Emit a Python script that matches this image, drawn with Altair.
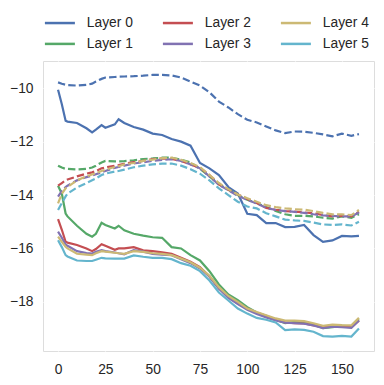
import altair as alt
import pandas as pd

X = [0, 2, 4, 5, 10, 15, 18, 20, 23, 25, 30, 32, 35, 40, 45, 50, 55, 60, 65, 70,
     75, 80, 85, 90, 95, 100, 105, 110, 115, 120, 125, 130, 135, 140, 145, 150, 155, 159]

L0_DASH = [-9.78, -9.83, -9.87, -9.88, -9.9, -9.87, -9.83, -9.75, -9.65, -9.6, -9.58, -9.57, -9.56, -9.55,
           -9.53, -9.5, -9.5, -9.52, -9.6, -9.75, -9.9, -10.15, -10.5, -10.72, -10.97, -11.18, -11.28,
           -11.43, -11.58, -11.68, -11.62, -11.63, -11.67, -11.73, -11.8, -11.7, -11.78, -11.72]
L0_SOLID = [-10.06, -10.6, -11.22, -11.25, -11.3, -11.5, -11.65, -11.55, -11.38, -11.48, -11.35, -11.16,
            -11.3, -11.45, -11.55, -11.7, -11.75, -11.9, -12.0, -12.15, -12.8, -13.0, -13.25, -13.7,
            -13.94, -14.7, -14.75, -15.05, -15.05, -15.2, -15.19, -15.12, -15.5, -15.75, -15.7, -15.53,
            -15.55, -15.53]
L1_DASH = [-12.9, -12.97, -13.02, -13.02, -13.04, -13.02, -12.97, -12.9, -12.78, -12.72, -12.74, -12.74,
           -12.73, -12.7, -12.65, -12.63, -12.6, -12.6, -12.68, -12.78, -13.02, -13.3, -13.6, -13.8, -14.0,
           -14.18, -14.3, -14.45, -14.6, -14.72, -14.78, -14.78, -14.8, -14.85, -14.88, -14.8, -14.85, -14.72]
L1_SOLID = [-13.65, -13.95, -14.69, -14.8, -15.15, -15.45, -15.56, -15.45, -15.04, -15.12, -15.25, -15.15,
            -15.32, -15.45, -15.52, -15.58, -15.6, -15.95, -16.0, -16.25, -16.45, -16.85, -17.35, -17.72,
            -17.94, -18.2, -18.4, -18.52, -18.67, -18.8, -18.75, -18.78, -18.85, -18.98, -18.95, -18.9,
            -18.92, -18.65]
L2_DASH = [-13.65, -13.55, -13.45, -13.42, -13.3, -13.2, -13.15, -13.1, -13.0, -12.97, -12.9, -12.88, -12.83,
           -12.77, -12.72, -12.65, -12.63, -12.65, -12.72, -12.85, -12.98, -13.25, -13.6, -13.8, -13.98,
           -14.15, -14.3, -14.48, -14.55, -14.6, -14.62, -14.65, -14.68, -14.75, -14.8, -14.78, -14.8, -14.62]
L2_SOLID = [-14.9, -15.3, -15.75, -15.78, -15.87, -16.0, -16.1, -16.02, -15.84, -15.9, -16.05, -16.0, -16.0,
            -15.95, -16.07, -16.1, -16.15, -16.2, -16.35, -16.5, -16.7, -17.05, -17.5, -17.8, -18.06, -18.25,
            -18.42, -18.55, -18.67, -18.77, -18.8, -18.81, -18.88, -18.95, -18.92, -18.93, -18.95, -18.7]
L3_DASH = [-14.06, -13.85, -13.7, -13.65, -13.45, -13.33, -13.27, -13.22, -13.15, -13.1, -12.98, -12.95, -12.9,
           -12.82, -12.77, -12.72, -12.68, -12.66, -12.72, -12.85, -13.0, -13.3, -13.62, -13.82, -14.03,
           -14.18, -14.32, -14.48, -14.56, -14.6, -14.63, -14.67, -14.72, -14.76, -14.78, -14.8, -14.8, -14.65]
L3_SOLID = [-15.37, -15.6, -15.85, -15.9, -16.1, -16.17, -16.19, -16.12, -16.06, -16.1, -16.15, -16.18,
            -16.22, -16.06, -16.12, -16.2, -16.23, -16.25, -16.4, -16.55, -16.75, -17.05, -17.5, -17.85,
            -18.08, -18.3, -18.45, -18.58, -18.7, -18.78, -18.8, -18.82, -18.88, -18.98, -18.93, -18.95,
            -18.97, -18.7]
L4_DASH = [-14.31, -13.95, -13.75, -13.7, -13.45, -13.3, -13.23, -13.18, -13.1, -13.05, -12.95, -12.92, -12.85,
           -12.8, -12.72, -12.67, -12.62, -12.6, -12.68, -12.8, -12.95, -13.25, -13.55, -13.78, -13.98,
           -14.12, -14.25, -14.38, -14.45, -14.5, -14.53, -14.55, -14.6, -14.67, -14.72, -14.72, -14.75, -14.56]
L4_SOLID = [-15.56, -15.75, -15.94, -16.0, -16.2, -16.23, -16.25, -16.18, -16.1, -16.12, -16.16, -16.18,
            -16.2, -16.1, -16.13, -16.18, -16.2, -16.25, -16.38, -16.52, -16.72, -17.02, -17.45, -17.78,
            -18.0, -18.25, -18.38, -18.5, -18.62, -18.7, -18.7, -18.72, -18.8, -18.9, -18.85, -18.87,
            -18.88, -18.6]
L5_DASH = [-14.56, -14.3, -14.05, -13.95, -13.72, -13.55, -13.45, -13.38, -13.25, -13.2, -13.12, -13.1, -13.05,
           -12.96, -12.9, -12.85, -12.82, -12.82, -12.9, -13.03, -13.2, -13.45, -13.75, -14.0, -14.25,
           -14.43, -14.5, -14.68, -14.8, -14.92, -14.95, -14.97, -15.03, -15.1, -15.12, -15.1, -15.14, -15.0]
L5_SOLID = [-15.69, -15.95, -16.25, -16.3, -16.45, -16.47, -16.47, -16.42, -16.35, -16.37, -16.38, -16.38,
            -16.38, -16.26, -16.31, -16.35, -16.35, -16.4, -16.55, -16.65, -16.85, -17.2, -17.65, -17.95,
            -18.25, -18.44, -18.6, -18.67, -18.77, -19.06, -19.03, -19.05, -19.12, -19.28, -19.3, -19.27,
            -19.3, -19.0]

LAYERS = ["Layer 0", "Layer 1", "Layer 2", "Layer 3", "Layer 4", "Layer 5"]
COLORS = ["#4C72B0", "#55A868", "#C44E52", "#8172B2", "#CCB974", "#64B5CD"]
SOLIDS = [L0_SOLID, L1_SOLID, L2_SOLID, L3_SOLID, L4_SOLID, L5_SOLID]
DASHES = [L0_DASH, L1_DASH, L2_DASH, L3_DASH, L4_DASH, L5_DASH]

rows = []
for name, s, d in zip(LAYERS, SOLIDS, DASHES):
    for xv, sv, dv in zip(X, s, d):
        rows.append({"x": xv, "y": sv, "layer": name, "style": "solid"})
        rows.append({"x": xv, "y": dv, "layer": name, "style": "dashed"})
df = pd.DataFrame(rows)

FONT = "Liberation Sans"
TXT = "#262626"

# legend line symbol: a 30px horizontal stroke drawn from a small (10px) symbol box
color = alt.Color(
    "layer:N",
    scale=alt.Scale(domain=LAYERS, range=COLORS),
    legend=alt.Legend(
        title=None, orient="none", legendX=10, legendY=-45, columns=3,
        symbolType="M-3,0L3,0", symbolSize=100, symbolStrokeWidth=2.5,
        labelFont=FONT, labelFontSize=13.8, labelColor=TXT, labelOffset=20,
        columnPadding=24, rowPadding=6, padding=0,
    ),
)

xenc = alt.X(
    "x:Q",
    scale=alt.Scale(domain=[-7.95, 166.95], nice=False, zero=False),
    axis=alt.Axis(values=[0, 25, 50, 75, 100, 125, 150], title=None, domain=False,
                  ticks=False, tickSize=0, labelPadding=11, labelFont=FONT,
                  labelFontSize=13.8, labelColor=TXT, gridColor="white", gridWidth=1.2),
)
yenc = alt.Y(
    "y:Q",
    scale=alt.Scale(domain=[-19.84, -8.98], nice=False, zero=False),
    axis=alt.Axis(values=[-18, -16, -14, -12, -10], title=None, domain=False,
                  ticks=False, tickSize=0, labelPadding=10, labelFont=FONT,
                  labelFontSize=13.8, labelColor=TXT, gridColor="white", gridWidth=1.2),
)

base = alt.Chart(df)
solid = base.transform_filter(alt.datum.style == "solid").mark_line(strokeWidth=2.2).encode(
    x=xenc, y=yenc, color=color)
dashed = base.transform_filter(alt.datum.style == "dashed").mark_line(
    strokeWidth=2.2, strokeDash=[7.4, 3.2]).encode(x=xenc, y=yenc, color=color)

chart = alt.layer(solid, dashed).properties(
    width=331, height=290,
    padding={"left": 35, "top": 53, "right": 2, "bottom": 30},
    autosize=alt.AutoSizeParams(type="none"),
).configure_view(fill="#EAEAF2", stroke=None).configure(background="white")

chart.save("out.html", embed_options={"renderer": "svg", "actions": False})
